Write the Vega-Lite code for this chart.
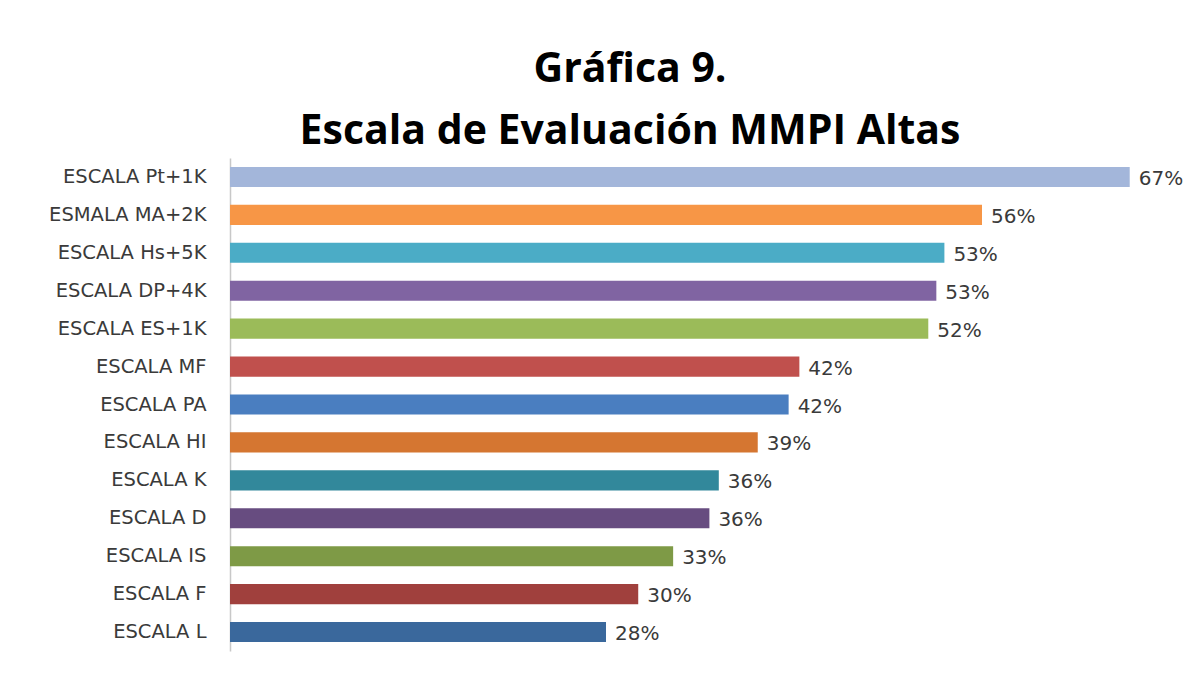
{
  "$schema": "https://vega.github.io/schema/vega-lite/v6.json",
  "autosize": "none",
  "width": 940,
  "height": 493,
  "padding": {"left": 230, "top": 158, "right": 18, "bottom": 33},
  "background": "white",
  "title": {
    "text": ["Gráfica 9.", "Escala de Evaluación MMPI Altas"],
    "font": "Open Sans",
    "fontSize": 41,
    "fontWeight": "bold",
    "color": "#000000",
    "anchor": "middle",
    "dx": -70,
    "lineHeight": 62,
    "offset": 5
  },
  "config": {"view": {"stroke": null}},
  "data": {
    "values": [
      {"escala": "ESCALA Pt+1K", "valor": 0.67, "orden": 1, "color": "#A3B6DA"},
      {"escala": "ESMALA MA+2K", "valor": 0.56, "orden": 2, "color": "#F79646"},
      {"escala": "ESCALA Hs+5K", "valor": 0.532, "orden": 3, "color": "#4BACC6"},
      {"escala": "ESCALA DP+4K", "valor": 0.526, "orden": 4, "color": "#8064A2"},
      {"escala": "ESCALA ES+1K", "valor": 0.52, "orden": 5, "color": "#9BBB59"},
      {"escala": "ESCALA MF", "valor": 0.424, "orden": 6, "color": "#C0504D"},
      {"escala": "ESCALA PA", "valor": 0.416, "orden": 7, "color": "#4A7EC0"},
      {"escala": "ESCALA  HI", "valor": 0.393, "orden": 8, "color": "#D57631"},
      {"escala": "ESCALA K", "valor": 0.364, "orden": 9, "color": "#32889B"},
      {"escala": "ESCALA D", "valor": 0.357, "orden": 10, "color": "#674C80"},
      {"escala": "ESCALA IS", "valor": 0.33, "orden": 11, "color": "#7E9A46"},
      {"escala": "ESCALA F", "valor": 0.304, "orden": 12, "color": "#A0403D"},
      {"escala": "ESCALA L", "valor": 0.28, "orden": 13, "color": "#3A689C"}
    ]
  },
  "encoding": {
    "y": {
      "field": "escala",
      "type": "nominal",
      "sort": {"field": "orden", "order": "ascending"},
      "scale": {"paddingInner": 0.47, "paddingOuter": 0.235},
      "axis": {
        "title": null,
        "ticks": false,
        "domainColor": "#C8C8C8",
        "domainWidth": 1.5,
        "labelFont": "DejaVu Sans",
        "labelFontSize": 19.5,
        "labelColor": "#3A3A3A",
        "labelPadding": 24
      }
    },
    "x": {
      "field": "valor",
      "type": "quantitative",
      "scale": {"domain": [0, 0.7]},
      "axis": null
    }
  },
  "layer": [
    {
      "mark": {"type": "bar"},
      "encoding": {
        "color": {"field": "color", "type": "nominal", "scale": null}
      }
    },
    {
      "mark": {"type": "text", "align": "left", "baseline": "middle", "dx": 9, "dy": 2, "font": "DejaVu Sans", "fontSize": 20, "color": "#3A3A3A"},
      "encoding": {
        "text": {"field": "valor", "type": "quantitative", "format": ".0%"}
      }
    }
  ]
}
